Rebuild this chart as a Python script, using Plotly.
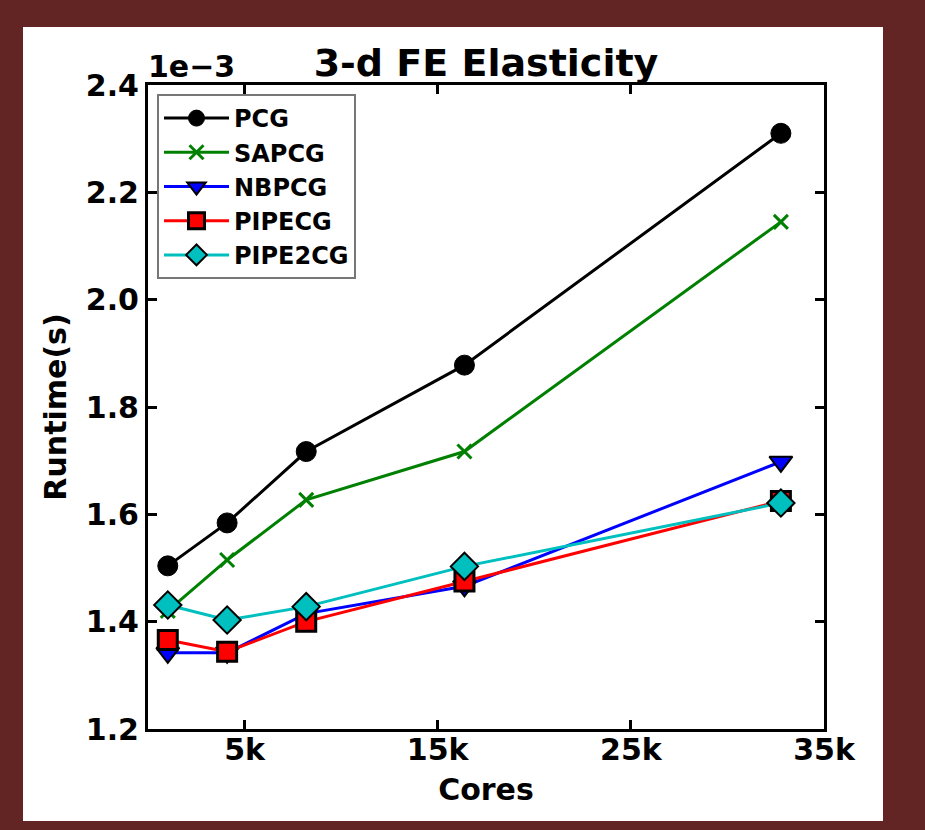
import plotly.graph_objects as go

# ---- data (runtime in seconds) ----
cores = [1024, 4096, 8192, 16384, 32768]
pcg = [1.504e-3, 1.584e-3, 1.717e-3, 1.878e-3, 2.310e-3]
sapcg = [1.420e-3, 1.515e-3, 1.627e-3, 1.717e-3, 2.145e-3]
nbpcg = [1.342e-3, 1.342e-3, 1.415e-3, 1.466e-3, 1.698e-3]
pipecg = [1.366e-3, 1.344e-3, 1.400e-3, 1.475e-3, 1.625e-3]
pipe2cg = [1.431e-3, 1.403e-3, 1.428e-3, 1.503e-3, 1.621e-3]

x_tickvals = [5000, 15000, 25000, 35000]
x_ticktext = ["5k", "15k", "25k", "35k"]
y_tickvals = [1.2e-3, 1.4e-3, 1.6e-3, 1.8e-3, 2.0e-3, 2.2e-3, 2.4e-3]
y_ticktext = ["1.2", "1.4", "1.6", "1.8", "2.0", "2.2", "2.4"]

FONT = "DejaVu Sans"
W, H = 925, 830
ML, MR, MT, MB = 148, 101, 85, 101
PW, PH = W - ML - MR, H - MT - MB

def px_x(p):
    return (p - ML) / PW

def px_y(p):
    return (H - MB - p) / PH

series = [
    ("PCG", pcg, "black", dict(symbol="circle", size=20, color="black",
                               line=dict(color="black", width=1))),
    ("SAPCG", sapcg, "#008000", dict(symbol="x-thin", size=14, color="#008000",
                                      line=dict(color="#008000", width=3))),
    ("NBPCG", nbpcg, "#0000FF", dict(symbol="triangle-down", size=20, color="#0000FF",
                                      line=dict(color="black", width=2))),
    ("PIPECG", pipecg, "#FF0000", dict(symbol="square", size=19, color="#FF0000",
                                        line=dict(color="black", width=3))),
    ("PIPE2CG", pipe2cg, "#00BFBF", dict(symbol="diamond", size=21, color="#00BFBF",
                                          line=dict(color="black", width=2))),
]

fig = go.Figure()
for name, vals, col, mk in series:
    fig.add_trace(go.Scatter(x=cores, y=vals, name=name, mode="lines+markers",
                             line=dict(color=col, width=3), marker=mk))

axis_common = dict(showline=True, linecolor="black", linewidth=3, mirror="ticks",
                   ticks="inside", ticklen=9, tickwidth=3, tickcolor="black",
                   showgrid=False, zeroline=False,
                   tickfont=dict(family=FONT, size=30, color="black", weight="bold"))

fig.update_layout(
    width=W, height=H,
    margin=dict(l=ML, r=MR, t=MT, b=MB),
    paper_bgcolor="#632424",
    plot_bgcolor="white",
    showlegend=True,
    title=dict(text="3-d FE Elasticity", x=(ML + PW / 2) / W, xanchor="center",
               y=1 - 63 / H, yanchor="middle", yref="container",
               font=dict(family=FONT, size=38, color="black", weight="bold")),
    xaxis=dict(range=[0, 35000], tickvals=x_tickvals, ticktext=x_ticktext,
               ticklabelstandoff=-8,
               title=dict(text="Cores", standoff=13,
                          font=dict(family=FONT, size=30, color="black", weight="bold")),
               **axis_common),
    yaxis=dict(range=[1.2e-3, 2.4e-3], tickvals=y_tickvals, ticktext=y_ticktext,
               title=dict(text="Runtime(s)", standoff=11,
                          font=dict(family=FONT, size=30, color="black", weight="bold")),
               **axis_common),
    legend=dict(x=px_x(157), y=px_y(94), xanchor="left", yanchor="top",
                bgcolor="white", bordercolor="#777777", borderwidth=2,
                itemwidth=65,
                font=dict(family=FONT, size=24, color="black", weight="bold")),
    shapes=[dict(type="rect", xref="paper", yref="paper", layer="below",
                 x0=px_x(23), x1=px_x(883), y0=px_y(821), y1=px_y(27),
                 fillcolor="white", line=dict(width=0))],
    annotations=[dict(text="1e\u22123", xref="paper", yref="paper",
                      x=px_x(146), y=px_y(86), xanchor="left", yanchor="bottom",
                      showarrow=False,
                      font=dict(family=FONT, size=30, color="black", weight="bold"))],
)

fig.write_html("out.html")
